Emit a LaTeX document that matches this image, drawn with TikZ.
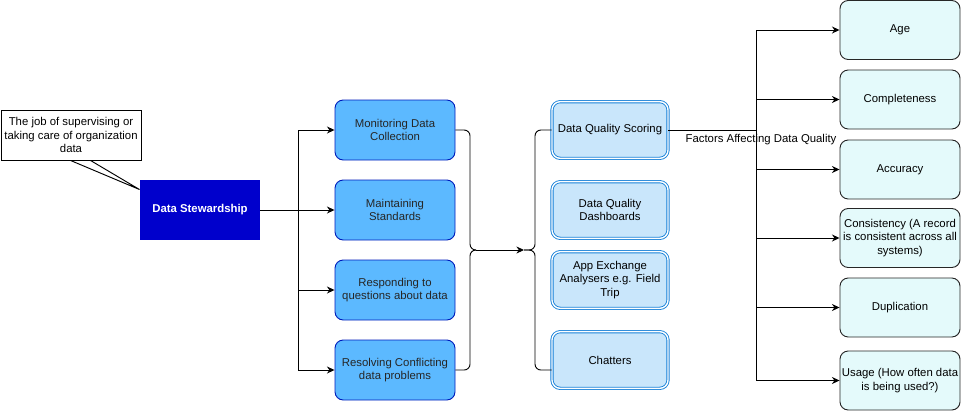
\documentclass[tikz,border=0pt]{standalone}
\usepackage{fontspec}
\setmainfont{Liberation Sans}
\usetikzlibrary{arrows.meta, positioning, calc}
\definecolor{stewBlue}{HTML}{0000CC}
\definecolor{dutyBlue}{HTML}{5CB9FF}
\definecolor{dutyLine}{HTML}{001DBC}
\definecolor{toolBlue}{HTML}{C9E6FB}
\definecolor{toolLine}{HTML}{1580D8}
\definecolor{factorCyan}{HTML}{E4FAFB}

\begin{document}
\begin{tikzpicture}[x=0.03cm, y=-0.03cm, font=\fontsize{9.7}{11.8}\selectfont,
    line width=0.8pt,
    arr/.style={-{Stealth[length=6.5pt, width=6pt]}},
    dutybox/.style={draw=dutyLine, fill=dutyBlue, text=black!85, rounded corners=7pt,
      minimum width=3.6cm, minimum height=1.8cm, align=center, inner sep=1pt},
    toolbox/.style={draw=toolLine, fill=toolBlue, double=white, double distance=1.2pt,
      line width=0.75pt, rounded corners=7pt, minimum width=3.48cm, minimum height=1.7cm,
      align=center, inner sep=1pt},
    factorbox/.style={draw=black!85, fill=factorCyan, rounded corners=7pt,
      minimum width=3.6cm, minimum height=1.77cm, align=center, inner sep=1pt}]
  \useasboundingbox (0,0) rectangle (961,411);

  \node[draw, fill=white, minimum width=4.2cm, minimum height=1.5cm, align=center,
    inner sep=1pt] (note) at (71,135)
    {The job of supervising or\\taking care of organization\\data};
  \node[fill=stewBlue, text=white, font=\fontsize{9.7}{11.8}\selectfont\bfseries,
    minimum width=3.6cm, minimum height=1.8cm] (stew) at (200,210) {Data Stewardship};
  \draw ($(note.south west)+(70,0)$) -- ($(stew.north west)+(0,10)$)
    -- ($(note.south west)+(90,0)$);

  \node[dutybox] (mon) at (395,130) {Monitoring Data\\Collection};
  \node[dutybox] (std) at (395,210) {Maintaining\\Standards};
  \node[dutybox] (resp) at (395,290) {Responding to\\questions about data};
  \node[dutybox] (res) at (395,370) {Resolving Conflicting\\data problems};

  \coordinate (trunkA) at (298,210);
  \draw (trunkA |- mon.west) -- (trunkA |- res.west);
  \draw[arr] (stew.east) -- (std.west);
  \foreach \n in {mon,resp,res}
    \draw[arr] (trunkA |- \n.west) -- (\n.west);

  \node[toolbox] (dqs) at (610,130) {Data Quality Scoring};
  \node[toolbox] (dqd) at (610,210) {Data Quality\\Dashboards};
  \node[toolbox] (app) at (610,280) {App Exchange\\Analysers e.g. Field\\Trip};
  \node[toolbox] (chat) at (610,360) {Chatters};

  \coordinate (braceA) at (470,250);
  \coordinate (tipA) at (476,250);
  \coordinate (braceB) at (535,250);
  \coordinate (tipB) at (524,250);
  \draw[rounded corners=5pt] (mon.east) -| (braceA) -- (tipA);
  \draw[rounded corners=5pt] (res.east) -| (braceA) -- (tipA);
  \draw[arr] (tipA) -- (tipB);
  \draw[rounded corners=5pt] (tipB) -- (braceB) |- (dqs.west);
  \draw[rounded corners=5pt] (tipB) -- (braceB) |- (chat.west |- res.east);

  \node[factorbox] (age) at (900,30) {Age};
  \node[factorbox] (comp) at (900,99.5) {Completeness};
  \node[factorbox] (acc) at (900,169.5) {Accuracy};
  \node[factorbox] (cons) at (900,238) {Consistency (A record\\is consistent across all\\systems)};
  \node[factorbox] (dup) at (900,307.5) {Duplication};
  \node[factorbox] (usage) at (900,380.5) {Usage (How often data\\is being used?)};

  \coordinate (fork) at (756,130);
  \draw (dqs.east) -- (fork);
  \node (factors) at (761,140) {Factors Affecting Data Quality};
  \draw (fork |- age.west) -- (fork |- usage.west);
  \foreach \n in {age,comp,acc,cons,dup,usage}
    \draw[arr] (fork |- \n.west) -- (\n.west);
\end{tikzpicture}
\end{document}
